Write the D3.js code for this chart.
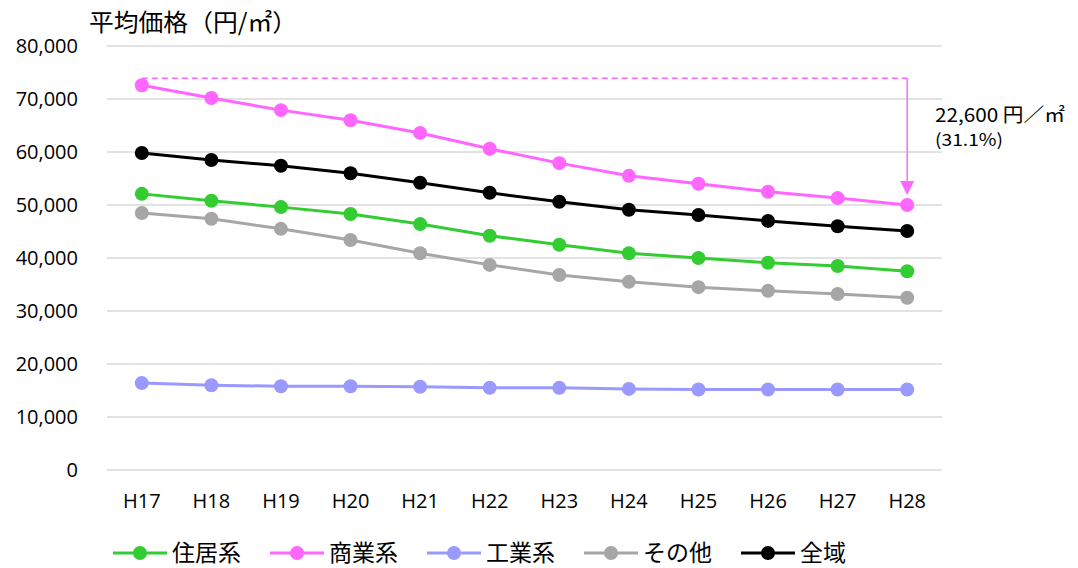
<!DOCTYPE html>
<html><head><meta charset="utf-8">
<script src="https://cdn.jsdelivr.net/npm/d3@7"></script>
<style>body{margin:0;background:#fff;} svg{display:block;}</style>
</head><body>
<svg id="chart" width="1078" height="568"></svg>
<script>
const categories = ["H17","H18","H19","H20","H21","H22","H23","H24","H25","H26","H27","H28"];
const yTicks = [0,10000,20000,30000,40000,50000,60000,70000,80000];
const seriesNames = ["住居系","商業系","工業系","その他","全域"];
const seriesColors = ["#33cc33","#ff66ff","#9999ff","#a6a6a6","#000000"];
const residential = [52100,50800,49600,48300,46400,44200,42500,40900,40000,39100,38500,37500];
const commercial  = [72600,70200,67900,66000,63600,60600,57900,55500,54000,52500,51300,50000];
const industrial  = [16400,16000,15800,15800,15700,15500,15500,15300,15200,15200,15200,15200];
const other       = [48500,47400,45500,43400,40900,38700,36800,35500,34500,33800,33200,32500];
const total       = [59800,58500,57400,56000,54200,52300,50600,49100,48100,47000,46000,45100];
const seriesValues = [residential, commercial, industrial, other, total];
const drawOrder = [2,3,0,4,1];
const annotationLines = ["22,600 円／㎡","(31.1%)"];

(function(){
const svg = d3.select("#chart");
const pLeft = 107, pRight = 942, pTop = 46, pBottom = 470;
const x = d3.scaleBand().domain(categories).range([pLeft, pRight]);
const y = d3.scaleLinear().domain([0, 80000]).range([pBottom, pTop]);
const numFont = "'Open Sans','Noto Sans',sans-serif";
const jpFont = "'Noto Sans CJK JP','Noto Sans',sans-serif";

svg.append("g").selectAll("line").data(yTicks).join("line")
  .attr("x1", pLeft).attr("x2", pRight)
  .attr("y1", d => y(d)).attr("y2", d => y(d))
  .attr("stroke", "#d9d9d9").attr("stroke-width", 1.3);

svg.append("g").selectAll("text").data(yTicks).join("text")
  .attr("x", 78).attr("y", d => y(d)).attr("dy", "0.35em")
  .attr("text-anchor", "end").attr("font-family", numFont).attr("font-size", 20)
  .attr("fill", "#000").text(d => d3.format(",")(d));

svg.append("g").selectAll("text").data(categories).join("text")
  .attr("x", d => x(d) + x.bandwidth()/2).attr("y", 501).attr("dy", "0.35em")
  .attr("text-anchor", "middle").attr("font-family", numFont).attr("font-size", 20)
  .attr("fill", "#000").text(d => d);

svg.append("text").attr("x", 89).attr("y", 31)
  .attr("font-family", jpFont).attr("font-size", 24).attr("fill", "#000")
  .attr("textLength", 208).attr("lengthAdjust", "spacingAndGlyphs")
  .text("平均価格（円/㎡）");

const cx = i => x(categories[i]) + x.bandwidth()/2;
const last = categories.length - 1;
const dashY = y(commercial[0]) - 7;
const pink = seriesColors[1];
svg.append("path")
  .attr("d", `M${cx(0)},${dashY}H${cx(last)}`)
  .attr("stroke", pink).attr("stroke-width", 1.5).attr("stroke-dasharray", "6,4").attr("fill","none");
const arrowTipY = y(commercial[last]) - 10;
svg.append("line").attr("x1", cx(last)).attr("x2", cx(last))
  .attr("y1", dashY).attr("y2", arrowTipY - 12)
  .attr("stroke", pink).attr("stroke-width", 1.5);
svg.append("path")
  .attr("d", `M${cx(last)-7},${arrowTipY-14}L${cx(last)+7},${arrowTipY-14}L${cx(last)},${arrowTipY}Z`)
  .attr("fill", pink);
svg.append("text").attr("x", 935).attr("y", 122)
  .attr("font-family", jpFont).attr("font-size", 19).attr("fill", "#000")
  .attr("textLength", 130).attr("lengthAdjust", "spacingAndGlyphs").text(annotationLines[0]);
svg.append("text").attr("x", 935).attr("y", 146)
  .attr("font-family", jpFont).attr("font-size", 17).attr("fill", "#000")
  .attr("textLength", 68).attr("lengthAdjust", "spacingAndGlyphs").text(annotationLines[1]);

const line = d3.line().x((d,i) => cx(i)).y(d => y(d));
drawOrder.forEach(si => {
  const g = svg.append("g");
  g.append("path").datum(seriesValues[si]).attr("d", line)
    .attr("fill","none").attr("stroke", seriesColors[si]).attr("stroke-width", 3);
  g.selectAll("circle").data(seriesValues[si]).join("circle")
    .attr("cx", (d,i) => cx(i)).attr("cy", d => y(d)).attr("r", 7)
    .attr("fill", seriesColors[si]);
});

const legend = svg.append("g");
let lx = 113;
const ly = 553;
seriesNames.forEach((name, i) => {
  legend.append("line").attr("x1", lx).attr("x2", lx + 54).attr("y1", ly).attr("y2", ly)
    .attr("stroke", seriesColors[i]).attr("stroke-width", 3);
  legend.append("circle").attr("cx", lx + 27).attr("cy", ly).attr("r", 7).attr("fill", seriesColors[i]);
  const tw = name.length * 23;
  legend.append("text").attr("x", lx + 59).attr("y", ly).attr("dy", "0.36em")
    .attr("font-family", jpFont).attr("font-size", 23).attr("fill", "#000")
    .attr("textLength", tw).attr("lengthAdjust", "spacingAndGlyphs")
    .text(name);
  lx += 54 + 5 + tw + 29;
});
})();
</script>
</body></html>
